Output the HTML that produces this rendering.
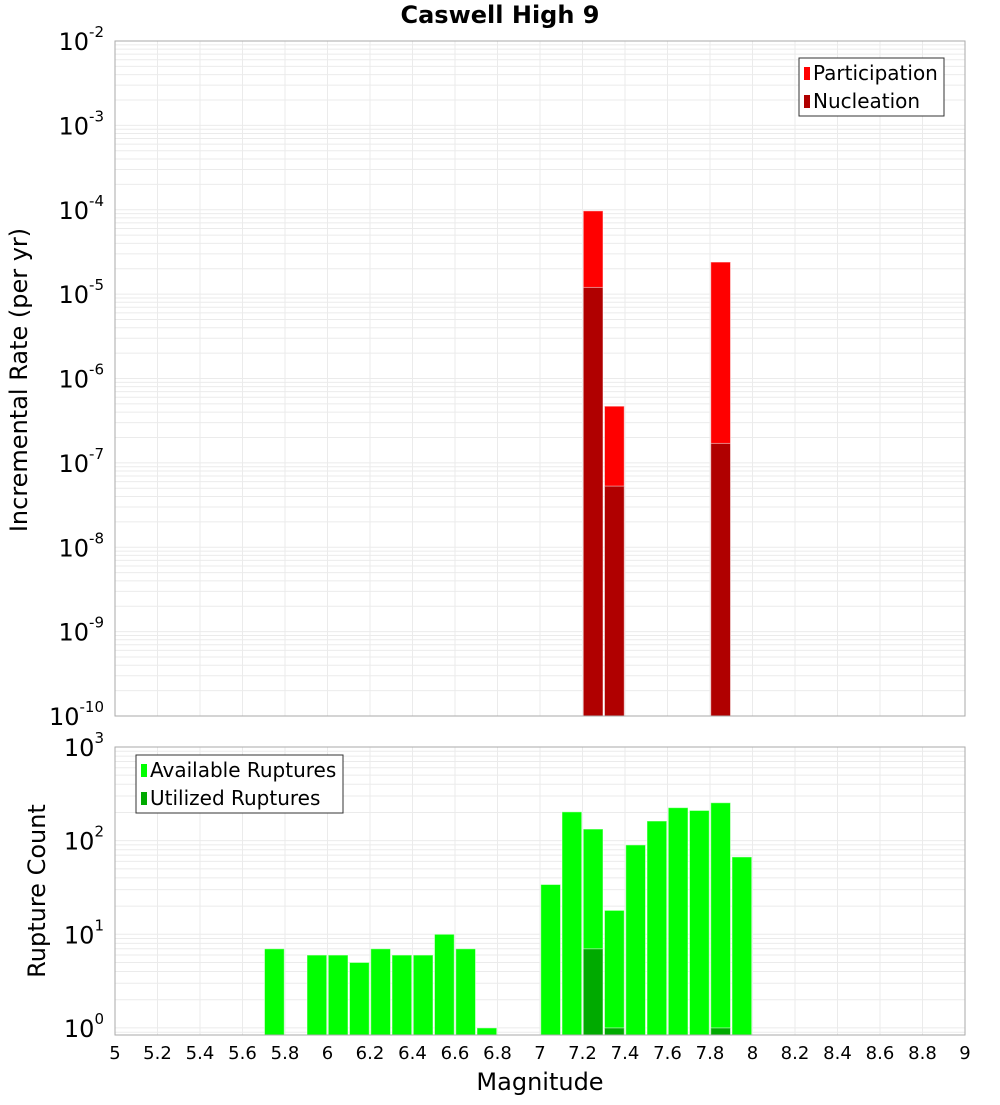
<!DOCTYPE html>
<html><head><meta charset="utf-8"><style>
body{margin:0;background:#fff;font-family:"Liberation Sans","DejaVu Sans",sans-serif}
</style></head><body>
<svg id="chart" width="1000" height="1100" xmlns="http://www.w3.org/2000/svg" font-family="DejaVu Sans, Liberation Sans, sans-serif">
<text x="500" y="23" text-anchor="middle" font-size="24" font-weight="bold">Caswell High 9</text>
<g id="top"></g><g id="bot"></g>
<text transform="translate(27,380) rotate(-90)" text-anchor="middle" font-size="24">Incremental Rate (per yr)</text>
<text transform="translate(45,891) rotate(-90)" text-anchor="middle" font-size="24">Rupture Count</text>
<text x="540" y="1090" text-anchor="middle" font-size="24">Magnitude</text>
</svg>
<script>
const rateMags=[7.25,7.35,7.85];
const participation=[9.7e-5,4.7e-7,2.4e-5];
const nucleation=[1.2e-5,5.3e-8,1.7e-7];
const countMags=[5.75,5.95,6.05,6.15,6.25,6.35,6.45,6.55,6.65,6.75,7.05,7.15,7.25,7.35,7.45,7.55,7.65,7.75,7.85,7.95];
const available=[7,6,6,5,7,6,6,10,7,1,34,203,133,18,90,162,225,210,254,67];
const utilMags=[7.25,7.35,7.85];
const utilized=[7,1,1];
const xTicks=[5,5.2,5.4,5.6,5.8,6,6.2,6.4,6.6,6.8,7,7.2,7.4,7.6,7.8,8,8.2,8.4,8.6,8.8,9];
const topExps=[-10,-9,-8,-7,-6,-5,-4,-3,-2];
const botExps=[0,1,2,3];
const NS='http://www.w3.org/2000/svg';
const X0=115,X1=965;
const x=m=>X0+(m-5)/4*(X1-X0);
function mk(p,t,a){const e=document.createElementNS(NS,t);for(const k in a)e.setAttribute(k,a[k]);p.appendChild(e);return e;}
const T={top:41,bot:716,lmax:-2,lmin:-10};
const B={top:747,bot:1035,lmax:3,lmin:Math.log10(0.84)};
const yT=v=>T.top+(T.lmax-Math.log10(v))/(T.lmax-T.lmin)*(T.bot-T.top);
const yB=v=>B.top+(B.lmax-Math.log10(v))/(B.lmax-B.lmin)*(B.bot-B.top);
function panel(g,P,yf,exps,nm){
  const bg=mk(g,'rect',{x:X0,y:P.top,width:X1-X0,height:P.bot-P.top,fill:'#fff'});
  
  for(let e=Math.floor(P.lmin);e<P.lmax;e++)for(let k=1;k<10;k++){const v=k*Math.pow(10,e);const yy=yf(v);if(yy<P.top||yy>P.bot)continue;
    const l=mk(g,'line',{x1:X0,x2:X1,y1:yy,y2:yy,stroke:'#ebebeb','stroke-width':1});}
  xTicks.forEach(t=>{const l=mk(g,'line',{x1:x(t),x2:x(t),y1:P.top,y2:P.bot,stroke:'#ebebeb','stroke-width':1});});
  exps.forEach(e=>{const yy=yf(Math.pow(10,e));const t=mk(g,'text',{x:104,y:yy+9,'text-anchor':'end','font-size':24});
    
    t.textContent='10';const s=mk(t,'tspan',{dy:-13,'font-size':15});s.textContent=String(e);});
}
function bar(g,m,v,yf,P,col,nm){const w=(x(5.1)-x(5))-1.5;const yy=yf(v);
  const r=mk(g,'rect',{x:x(m)-w/2,y:yy,width:w,height:P.bot-yy,fill:col,stroke:'rgba(255,255,255,0.5)','stroke-width':1});
  }
const gt=document.getElementById('top'),gb=document.getElementById('bot');
panel(gt,T,yT,topExps,'top');
rateMags.forEach((m,i)=>bar(gt,m,participation[i],yT,T,'#ff0000','participation-bar'));
rateMags.forEach((m,i)=>bar(gt,m,nucleation[i],yT,T,'#b00000','nucleation-bar'));
let f=mk(gt,'rect',{x:X0,y:T.top,width:X1-X0,height:T.bot-T.top,fill:'none',stroke:'#aaa'});
panel(gb,B,yB,botExps,'bottom');
countMags.forEach((m,i)=>bar(gb,m,available[i],yB,B,'#00ff00','available-bar'));
utilMags.forEach((m,i)=>bar(gb,m,utilized[i],yB,B,'#00aa00','utilized-bar'));
f=mk(gb,'rect',{x:X0,y:B.top,width:X1-X0,height:B.bot-B.top,fill:'none',stroke:'#aaa'});
xTicks.forEach(t=>{const tx=mk(gb,'text',{x:x(t),y:1059,'text-anchor':'middle','font-size':18});tx.textContent=String(t);});
function legend(g,bx,by,w,items,nm){const lg=mk(g,'g',{});
  mk(lg,'rect',{x:bx,y:by,width:w,height:58,fill:'#fff',stroke:'#333'});
  items.forEach((it,i)=>{const r=mk(lg,'rect',{x:bx+5,y:by+9+i*28,width:6,height:13,fill:it[1]});
    const t=mk(lg,'text',{x:bx+14,y:by+22+i*28,'font-size':20});t.textContent=it[0];});}
legend(gt,799,58,145,[['Participation','#ff0000'],['Nucleation','#b00000']],'top-legend');
legend(gb,136,755,207,[['Available Ruptures','#00ff00'],['Utilized Ruptures','#00aa00']],'bottom-legend');
</script>
</body></html>
